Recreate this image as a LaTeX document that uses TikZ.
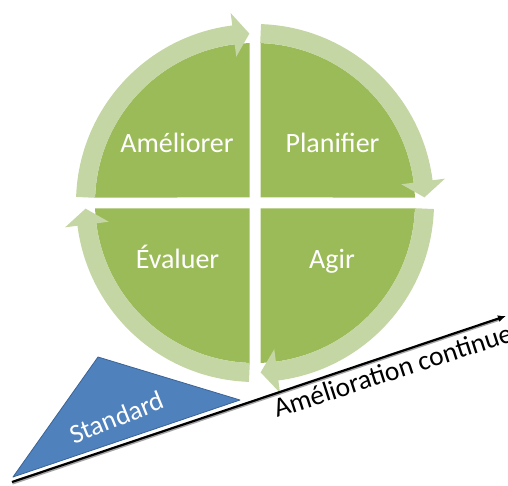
\documentclass[tikz,border=0pt]{standalone}
\usepackage{fontspec}
\setmainfont{Carlito}
\usetikzlibrary{calc,arrows.meta}
\definecolor{quadgreen}{HTML}{9BBB59}
\definecolor{ringgreen}{HTML}{C4D6A3}
\definecolor{stdblue}{HTML}{4F81BD}
\definecolor{stdedge}{HTML}{3A6396}
% one curved arrow of the cycle: shaft from #1 to #2, head from #2 to its tip at #3
\newcommand\cyclearrow[3]{%
  \draw[ringarc] ($(C)+(#1:169.5)$) arc[start angle=#1, end angle={#2-0.5}, radius=169.5];
  \fill[ringhead] ($(C)+(#2:147.5)$) -- ($(C)+(#3:169.5)$) -- ($(C)+(#2:191.5)$) -- cycle;}
\begin{document}
\begin{tikzpicture}[x=1pt,y=1pt,
  quad/.style={fill=quadgreen},
  ringarc/.style={draw=ringgreen, line width=19pt},
  ringhead/.style={fill=ringgreen},
  quadlabel/.style={text=white, font=\fontsize{28}{33}\selectfont, anchor=base, inner sep=0pt},
  axisline/.style={line width=2.2pt, draw=black, -{Latex[length=8pt,width=7pt]}},
  axisshadow/.style={line width=2pt, draw=black!35},
  stdshape/.style={fill=stdblue, draw=stdedge, line width=0.8pt, line join=round}]
\clip (0,0) rectangle (508,485);
\coordinate (C) at (255,282);

% four quadrants of the disc, separated by white gaps
\fill[quad] (249.5,287.5) -- ($(C)+(178.03:160)$) arc[start angle=178.03, end angle=91.97, radius=160] -- cycle;
\fill[quad] (260.5,287.5) -- ($(C)+(88.03:160)$) arc[start angle=88.03, end angle=1.97, radius=160] -- cycle;
\fill[quad] (260.5,276.5) -- ($(C)+(-1.97:160)$) arc[start angle=-1.97, end angle=-88.03, radius=160] -- cycle;
\fill[quad] (249.5,276.5) -- ($(C)+(-91.97:160)$) arc[start angle=-91.97, end angle=-178.03, radius=160] -- cycle;

% clockwise arrows around the disc
\cyclearrow{88.1}{7.3}{1.9}
\cyclearrow{-1.9}{-82.5}{-88.1}
\cyclearrow{-91.9}{-172.7}{-178.1}
\cyclearrow{178.1}{97.3}{91.9}

% quadrant labels
\node[quadlabel] (ameliorer) at (177,332) {Améliorer};
\node[quadlabel] (planifier) at (332.5,332) {Planifier};
\node[quadlabel] (evaluer) at (177.5,217) {Évaluer};
\node[quadlabel] (agir) at (332,217) {Agir};

% rising axis of continuous improvement
\coordinate (axisStart) at (12,3);
\coordinate (axisEnd) at (506,169);
\draw[axisshadow] ($(axisStart)+(0.5,-1.6)$) -- ($(axisEnd)+(-6,-3.6)$);
\draw[axisline] (axisStart) -- (axisEnd);
\node[font=\fontsize{27.5}{32}\selectfont, rotate=18, anchor=base west, inner sep=0pt] (continue) at (277,67) {Amélioration continue};

% the standard wedge resting on the axis
\coordinate (stdTop) at (98,128);
\coordinate (stdRight) at (240,85);
\coordinate (stdLeft) at (13,8);
\draw[stdshape] (stdTop) -- (stdRight) -- (stdLeft) -- cycle;
\node[text=white, font=\fontsize{27}{32}\selectfont, rotate=22, anchor=base, inner sep=0pt] (standard) at (120,59) {Standard};
\end{tikzpicture}
\end{document}
